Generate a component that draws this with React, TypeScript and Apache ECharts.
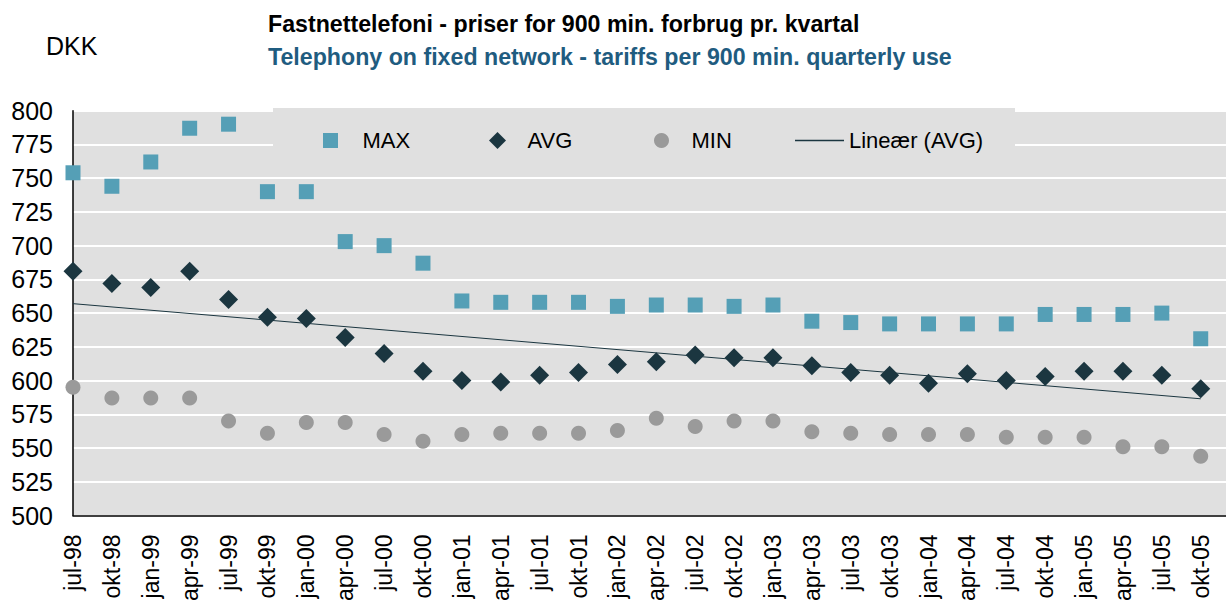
import React, { useEffect, useRef } from "react";
import * as echarts from "echarts";

const categories = [
  "jul-98", "okt-98", "jan-99", "apr-99", "jul-99", "okt-99", "jan-00", "apr-00", "jul-00", "okt-00",
  "jan-01", "apr-01", "jul-01", "okt-01", "jan-02", "apr-02", "jul-02", "okt-02", "jan-03", "apr-03",
  "jul-03", "okt-03", "jan-04", "apr-04", "jul-04", "okt-04", "jan-05", "apr-05", "jul-05", "okt-05",
];

const maxValues = [
  754, 744, 762, 787, 790, 740, 740, 703, 700, 687,
  659, 658, 658, 658, 655, 656, 656, 655, 656, 644,
  643, 642, 642, 642, 642, 649, 649, 649, 650, 631,
];

const avgValues = [
  681, 672, 669, 681, 660, 647, 646, 632, 620, 607,
  600, 599, 604, 606, 612, 614, 619, 617, 617, 611,
  606, 604, 598, 605, 600, 603, 607, 607, 604, 594,
];

const minValues = [
  595, 587, 587, 587, 570, 561, 569, 569, 560, 555,
  560, 561, 561, 561, 563, 572, 566, 570, 570, 562,
  561, 560, 560, 560, 558, 558, 558, 551, 551, 544,
];

// Linear trend (AVG) endpoints
const trendIndex = [0, 29];
const trendValues = [657, 586.5];

const seriesNames = ["MAX", "AVG", "MIN", "Lineær (AVG)"];
const yTicks = { min: 500, max: 800, step: 25 };

const FONT = "'Liberation Sans', Arial, Helvetica, sans-serif";
const SQUARE = "path://M0,0L10,0L10,10L0,10Z";
const DIAMOND = "path://M5,0L10,5L5,10L0,5Z";
const HLINE = "path://M0,0L47,0L47,1.2L0,1.2Z";

export default function App() {
  const ref = useRef<HTMLDivElement>(null);

  useEffect(() => {
    if (!ref.current) return;
    const chart = echarts.init(ref.current, undefined, { renderer: "svg" });
    const pairs = (vals: number[]) => vals.map((v, i) => [i, v]);
    const legendBase = {
      top: 129.5,
      padding: 0,
      symbolKeepAspect: true,
      textStyle: { fontSize: 22, color: "#000", fontFamily: FONT },
    };
    chart.setOption({
      animation: false,
      textStyle: { fontFamily: FONT },
      graphic: [
        {
          type: "rect",
          z: 1,
          shape: { x: 273, y: 108, width: 742, height: 42 },
          style: { fill: "#e0e0e0" },
        },
        {
          type: "text",
          x: 46,
          y: 46,
          style: { text: "DKK", font: `25px ${FONT}`, fill: "#000", verticalAlign: "middle" },
        },
        {
          type: "text",
          x: 268,
          y: 24,
          style: {
            text: "Fastnettelefoni - priser for 900 min. forbrug pr. kvartal",
            font: `bold 23.2px ${FONT}`,
            fill: "#000",
            verticalAlign: "middle",
          },
        },
        {
          type: "text",
          x: 268,
          y: 57,
          style: {
            text: "Telephony on fixed network - tariffs per 900 min. quarterly use",
            font: `bold 23.2px ${FONT}`,
            fill: "#1f5c80",
            verticalAlign: "middle",
          },
        },
      ],
      grid: {
        left: 73,
        right: 0,
        top: 110.7,
        bottom: 83,
        show: true,
        backgroundColor: "#e0e0e0",
        borderWidth: 0,
      },
      legend: [
        {
          ...legendBase,
          left: 323,
          itemWidth: 54,
          itemHeight: 15,
          data: [{ name: seriesNames[0], icon: SQUARE }],
        },
        {
          ...legendBase,
          left: 489,
          itemWidth: 50,
          itemHeight: 17,
          data: [{ name: seriesNames[1], icon: DIAMOND }],
        },
        {
          ...legendBase,
          left: 654,
          itemWidth: 50,
          itemHeight: 15,
          data: [{ name: seriesNames[2], icon: "circle" }],
        },
        {
          ...legendBase,
          left: 795,
          itemWidth: 49,
          itemHeight: 15,
          data: [{ name: seriesNames[3], icon: HLINE }],
        },
      ],
      xAxis: {
        type: "value",
        min: 0,
        max: 29.65,
        interval: 1,
        axisLine: { show: true, lineStyle: { color: "#000", width: 1.5 } },
        axisTick: { show: false },
        splitLine: { show: false },
        axisLabel: {
          rotate: 90,
          margin: 19,
          fontSize: 23,
          color: "#000",
          fontFamily: FONT,
          showMaxLabel: false,
          formatter: (v: number) => (Number.isInteger(v) && categories[v] ? categories[v] : ""),
        },
      },
      yAxis: {
        type: "value",
        min: yTicks.min,
        max: yTicks.max,
        interval: yTicks.step,
        axisLine: { show: true, lineStyle: { color: "#000", width: 1.5 } },
        axisTick: { show: false },
        splitLine: { show: true, lineStyle: { color: "#ffffff", width: 2 } },
        axisLabel: { fontSize: 25, color: "#000", margin: 20, fontFamily: FONT },
      },
      series: [
        {
          name: seriesNames[0],
          type: "scatter",
          symbol: "rect",
          symbolSize: 15,
          itemStyle: { color: "#559fb6", opacity: 1 },
          data: pairs(maxValues),
          z: 3,
        },
        {
          name: seriesNames[1],
          type: "scatter",
          symbol: "diamond",
          symbolSize: 19,
          itemStyle: { color: "#1b3640", opacity: 1 },
          data: pairs(avgValues),
          z: 3,
        },
        {
          name: seriesNames[2],
          type: "scatter",
          symbol: "circle",
          symbolSize: 15,
          itemStyle: { color: "#9a9a9a", opacity: 1 },
          data: pairs(minValues),
          z: 3,
        },
        {
          name: seriesNames[3],
          type: "line",
          symbol: "none",
          lineStyle: { color: "#1b3640", width: 1 },
          itemStyle: { color: "#1b3640" },
          data: trendIndex.map((x, i) => [x, trendValues[i]]),
          z: 2,
        },
      ],
    });
    return () => chart.dispose();
  }, []);

  return <div ref={ref} style={{ width: 1226, height: 604, position: "absolute", left: 0, top: 0 }} />;
}
